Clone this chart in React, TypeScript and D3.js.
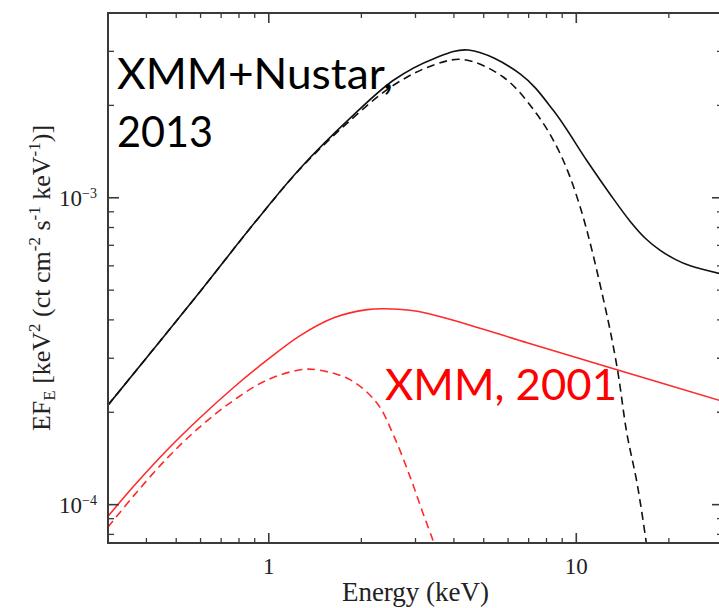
import React from "react";
import * as d3 from "d3";

// ---- Data ----
// XMM+NuSTAR 2013: total model (solid black)
const nustarTotalE = [0.3, 0.6, 0.9, 1.268, 1.843, 2.55, 3.44, 4.46, 6.58, 8.44, 10.83, 12.9, 14.98, 16.76, 18.75, 20.98, 23.48, 30];
const nustarTotalF = [2.11e-4, 4.97e-4, 8.3e-4, 1.25e-3, 1.82e-3, 2.42e-3, 2.84e-3, 3.03e-3, 2.53e-3, 1.92e-3, 1.32e-3, 1.025e-3, 8.37e-4, 7.38e-4, 6.74e-4, 6.3e-4, 6.0e-4, 5.63e-4];

// XMM+NuSTAR 2013: soft component (dashed black)
const nustarSoftE = [0.3, 0.6, 0.9, 1.268, 1.843, 2.55, 3.44, 4.3, 5.8, 7.45, 8.87, 10.3, 12.27, 13.56, 14.6, 15.75, 16.89, 17.4];
const nustarSoftF = [2.11e-4, 4.97e-4, 8.3e-4, 1.245e-3, 1.79e-3, 2.33e-3, 2.71e-3, 2.82e-3, 2.47e-3, 1.87e-3, 1.39e-3, 9.32e-4, 4.64e-4, 2.82e-4, 1.71e-4, 1.18e-4, 7.52e-5, 6.0e-5];

// XMM 2001: total model (solid red)
const xmmTotalE = [0.3, 0.364, 0.473, 0.6, 0.77, 0.988, 1.268, 1.627, 2.09, 2.36, 3.04, 3.9, 6.92, 13.56, 30];
const xmmTotalF = [9.16e-5, 1.15e-4, 1.527e-4, 1.927e-4, 2.413e-4, 2.961e-4, 3.562e-4, 4.065e-4, 4.32e-4, 4.35e-4, 4.27e-4, 4.01e-4, 3.37e-4, 2.75e-4, 2.17e-4];

// XMM 2001: soft component (dashed red)
const xmmSoftE = [0.3, 0.364, 0.468, 0.6, 0.77, 0.988, 1.268, 1.437, 1.843, 2.25, 2.55, 2.888, 3.151, 3.44, 3.61];
const xmmSoftF = [8.45e-5, 1.07e-4, 1.42e-4, 1.8e-4, 2.19e-4, 2.55e-4, 2.75e-4, 2.75e-4, 2.55e-4, 2.14e-4, 1.676e-4, 1.224e-4, 9.56e-5, 7.52e-5, 6.5e-5];

// Axis ticks
const xMajorTicks = [1, 10];
const xMajorLabels = ["1", "10"];
const xMinorTicks = [0.3, 0.4, 0.5, 0.6, 0.7, 0.8, 0.9, 2, 3, 4, 5, 6, 7, 8, 9, 20, 30];
const yMajorTicks = [1e-4, 1e-3];
const yMajorExponents = ["−4", "−3"];
const yMinorTicks = [8e-5, 9e-5, 2e-4, 3e-4, 4e-4, 5e-4, 6e-4, 7e-4, 8e-4, 9e-4, 2e-3, 3e-3];

const xDomain: [number, number] = [0.3, 30];
const yDomain: [number, number] = [7.5e-5, 4e-3];

const W = 719;
const H = 608;
const left = 108;
const right = 723;
const top = 13;
const bottom = 543;

export default function App() {
  const x = d3.scaleLog().domain(xDomain).range([left, right]);
  const y = d3.scaleLog().domain(yDomain).range([bottom, top]);

  const line = d3
    .line<[number, number]>()
    .x((d) => x(d[0]))
    .y((d) => y(d[1]))
    .curve(d3.curveCatmullRom.alpha(0.5));

  const zip = (e: number[], f: number[]) => e.map((v, i) => [v, f[i]] as [number, number]);

  const axisColor = "#3a3a3a";
  const serif = "'Liberation Serif', 'DejaVu Serif', serif";
  const sans = "Lato, 'Open Sans', 'Noto Sans', sans-serif";

  const series = [
    { d: zip(xmmSoftE, xmmSoftF), color: "#ff2a2a", dash: "8,5" },
    { d: zip(xmmTotalE, xmmTotalF), color: "#ff2a2a", dash: undefined },
    { d: zip(nustarSoftE, nustarSoftF), color: "#111", dash: "8,5" },
    { d: zip(nustarTotalE, nustarTotalF), color: "#111", dash: undefined },
  ];

  return (
    <svg
      width={W}
      height={H}
      style={{ position: "absolute", left: 0, top: 0, background: "#fff" }}
    >
      <defs>
        <clipPath id="plotClip">
          <rect x={left} y={top} width={right - left} height={bottom - top} />
        </clipPath>
      </defs>
      <rect x={0} y={0} width={W} height={H} fill="#fff" />

      {/* curves */}
      <g clipPath="url(#plotClip)">
        {series.map((s, i) => (
          <path
            key={i}
            d={line(s.d) || ""}
            fill="none"
            stroke={s.color}
            strokeWidth={1.6}
            strokeDasharray={s.dash}
          />
        ))}
      </g>

      {/* frame */}
      <rect
        x={left}
        y={top}
        width={right - left}
        height={bottom - top}
        fill="none"
        stroke={axisColor}
        strokeWidth={2}
      />

      {/* x ticks (bottom and top) */}
      {xMajorTicks.map((t) => (
        <g key={"xM" + t}>
          <line x1={x(t)} x2={x(t)} y1={bottom} y2={bottom - 10} stroke={axisColor} strokeWidth={1.6} />
          <line x1={x(t)} x2={x(t)} y1={top} y2={top + 10} stroke={axisColor} strokeWidth={1.6} />
        </g>
      ))}
      {xMinorTicks.map((t) => (
        <g key={"xm" + t}>
          <line x1={x(t)} x2={x(t)} y1={bottom} y2={bottom - 5} stroke={axisColor} strokeWidth={1.3} />
          <line x1={x(t)} x2={x(t)} y1={top} y2={top + 5} stroke={axisColor} strokeWidth={1.3} />
        </g>
      ))}

      {/* y ticks (left and right) */}
      {yMajorTicks.map((t) => (
        <g key={"yM" + t}>
          <line x1={left} x2={left + 11} y1={y(t)} y2={y(t)} stroke={axisColor} strokeWidth={1.6} />
          <line x1={right} x2={right - 11} y1={y(t)} y2={y(t)} stroke={axisColor} strokeWidth={1.6} />
        </g>
      ))}
      {yMinorTicks.map((t) => (
        <g key={"ym" + t}>
          <line x1={left} x2={left + 6} y1={y(t)} y2={y(t)} stroke={axisColor} strokeWidth={1.3} />
          <line x1={right} x2={right - 6} y1={y(t)} y2={y(t)} stroke={axisColor} strokeWidth={1.3} />
        </g>
      ))}

      {/* x tick labels */}
      {xMajorTicks.map((t, i) => (
        <text
          key={"xl" + t}
          x={x(t)}
          y={574}
          textAnchor="middle"
          fontFamily={serif}
          fontSize={23}
          fill="#222"
        >
          {xMajorLabels[i]}
        </text>
      ))}

      {/* y tick labels */}
      {yMajorTicks.map((t, i) => (
        <text
          key={"yl" + t}
          x={97}
          y={y(t) + 8}
          textAnchor="end"
          fontFamily={serif}
          fontSize={23}
          fill="#222"
        >
          <tspan>10</tspan>
          <tspan dy={-8} fontSize={14}>
            {yMajorExponents[i]}
          </tspan>
        </text>
      ))}

      {/* axis titles */}
      <text
        x={(left + right) / 2}
        y={601}
        textAnchor="middle"
        fontFamily={serif}
        fontSize={27}
        fill="#222"
      >
        Energy (keV)
      </text>
      <text
        transform={`translate(50, ${(top + bottom) / 2}) rotate(-90)`}
        textAnchor="middle"
        fontFamily={serif}
        fontSize={26}
        fill="#222"
      >
        <tspan>EF</tspan>
        <tspan dy={5} fontSize={17}>E</tspan>
        <tspan dy={-5}> [keV</tspan>
        <tspan dy={-10} fontSize={17}>2</tspan>
        <tspan dy={10}> (ct cm</tspan>
        <tspan dy={-10} fontSize={17}>-2</tspan>
        <tspan dy={10}> s</tspan>
        <tspan dy={-10} fontSize={17}>-1</tspan>
        <tspan dy={10}> keV</tspan>
        <tspan dy={-10} fontSize={17}>-1</tspan>
        <tspan dy={10}>)]</tspan>
      </text>

      {/* annotations */}
      <text x={117} y={89} fontFamily={sans} fontSize={42} fill="#000" textLength={276} lengthAdjust="spacingAndGlyphs">
        XMM+Nustar,
      </text>
      <text x={117} y={147} fontFamily={sans} fontSize={42} fill="#000" textLength={96} lengthAdjust="spacingAndGlyphs">
        2013
      </text>
      <text x={385} y={400} fontFamily={sans} fontSize={42} fill="#ff0000" textLength={232} lengthAdjust="spacingAndGlyphs">
        XMM, 2001
      </text>
    </svg>
  );
}
